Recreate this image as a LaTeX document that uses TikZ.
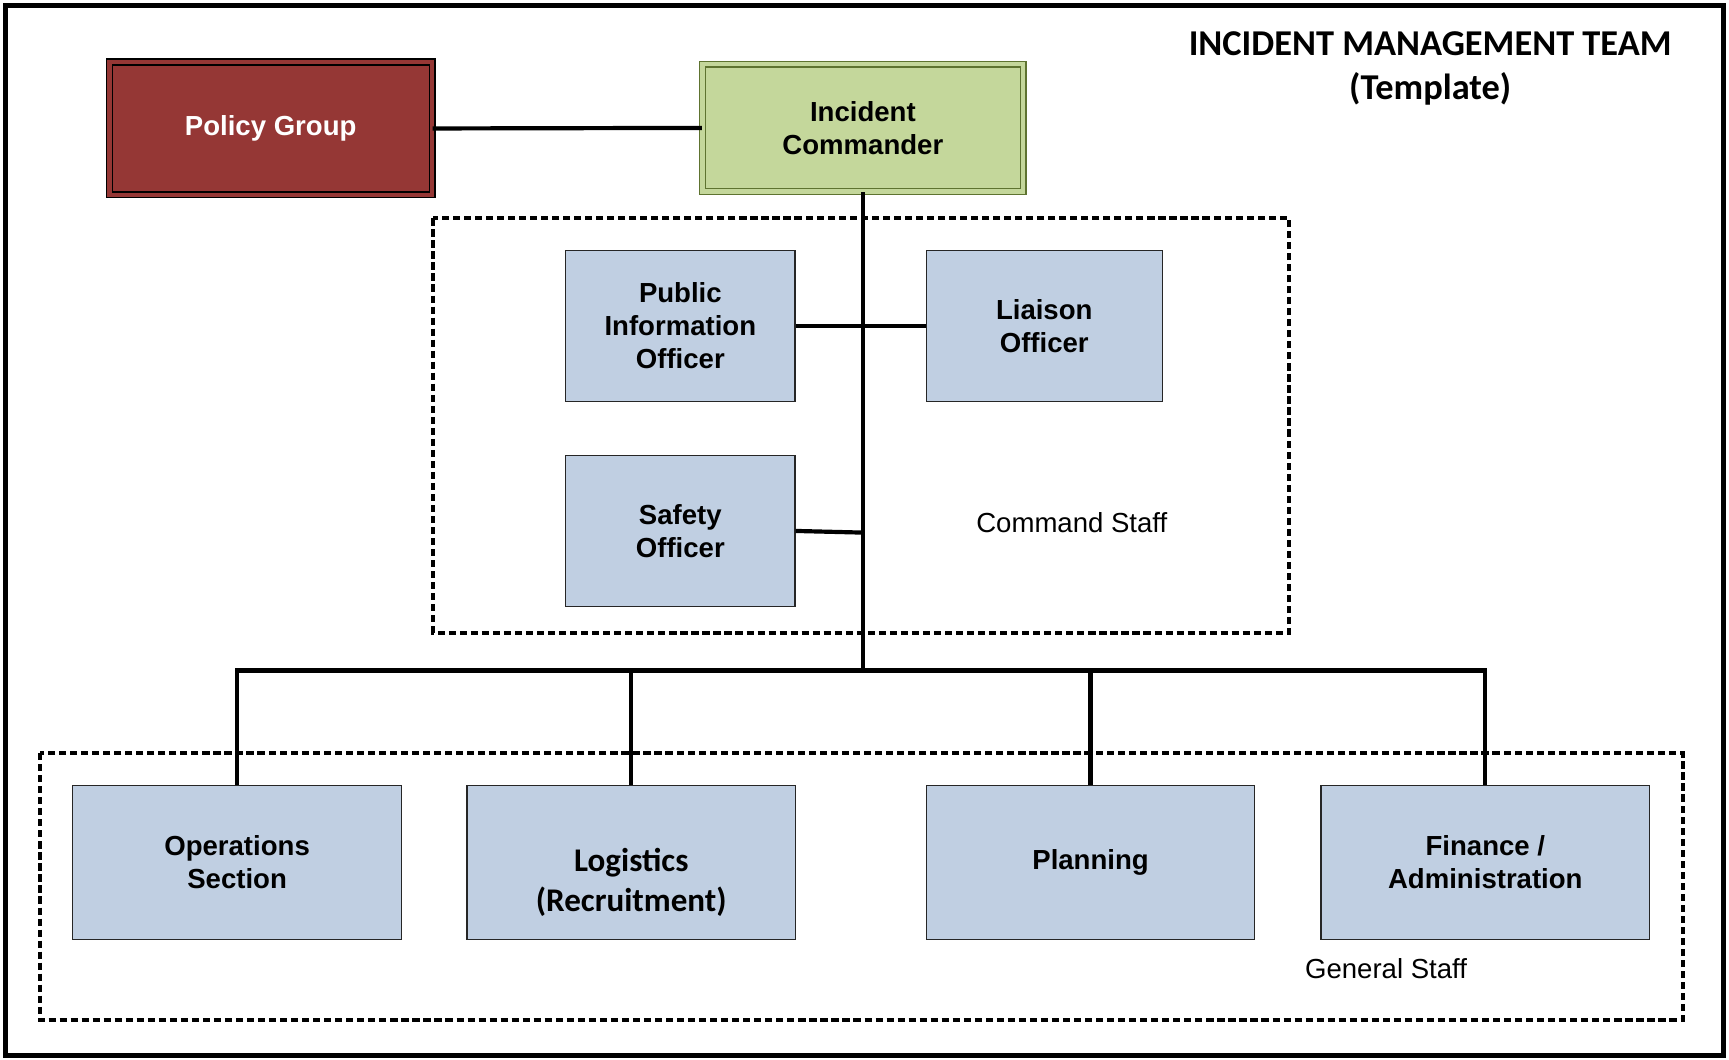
\documentclass[tikz,border=0pt]{standalone}
\usepackage{fontspec}
\setmainfont{Liberation Sans}
\newfontfamily\carlito{Carlito}
\definecolor{staffblue}{RGB}{192,207,226}
\definecolor{pgred}{RGB}{149,55,53}
\definecolor{icgreen}{RGB}{196,215,155}
\definecolor{icline}{RGB}{94,115,48}
\begin{document}
\begin{tikzpicture}[x=1pt,y=-1pt,
  box/.style={draw=black!85, line width=1pt, fill=staffblue, align=center, inner sep=0pt,
    font=\bfseries\fontsize{25}{30}\selectfont},
  cmdbox/.style={box, minimum width=208pt, minimum height=137pt},
  genbox/.style={box, minimum width=298pt, minimum height=140pt},
  conn/.style={line width=3.8pt},
  grp/.style={line width=3.4pt, dash pattern=on 6.5pt off 3.5pt},
  grplabel/.style={font=\fontsize{25}{30}\selectfont}]
\useasboundingbox (0,0) rectangle (1568,961);
% outer frame
\draw[line width=5pt] (5,5) rectangle (1563,957);
% title
\node[font=\carlito\bfseries\fontsize{33}{40}\selectfont, align=center] (title) at (1297,62)
  {INCIDENT MANAGEMENT TEAM\\(Template)};
% group boxes
\draw[grp] (393,198) rectangle (1169,574);
\draw[grp] (36,683) rectangle (1526,925);
\node[grplabel] (cmdlbl) at (972,474) {Command Staff};
\node[grplabel] (genlbl) at (1257,878) {General Staff};
% top boxes
\node[draw=black, line width=1.2pt, double=pgred, double distance=4pt, fill=pgred,
  minimum width=292.6pt, minimum height=120.6pt, text=white,
  font=\bfseries\fontsize{25}{30}\selectfont] (PG) at (245.5,116.5) {Policy Group};
\node[draw=icline, line width=1.2pt, double=icgreen, double distance=4pt, fill=icgreen,
  minimum width=290.6pt, minimum height=115.6pt, align=center,
  font=\bfseries\fontsize{25}{30}\selectfont] (IC) at (782.5,116) {Incident\\Commander};
% command staff
\node[cmdbox] (PIO) at (617,295.5) {Public\\Information\\Officer};
\node[cmdbox, minimum width=214pt] (LO) at (947,295.5) {Liaison\\Officer};
\node[cmdbox] (SO) at (617,481.5) {Safety\\Officer};
% general staff
\node[genbox] (OPS) at (215,782) {Operations\\Section};
\node[genbox, label={[align=center, yshift=-18pt, font=\carlito\bfseries\fontsize{30}{36}\selectfont]center:Logistics\\(Recruitment)}] (LOG) at (572.5,782) {};
\node[genbox] (PLAN) at (989,782) {Planning};
\node[genbox] (FIN) at (1347,782) {Finance /\\Administration};
% connectors
\coordinate (bar) at (782.5,608);
\coordinate (sojoin) at (782.5,483);
\draw[conn] (PG.east) -- (IC.west);
\draw[conn] (IC.south) -- (bar);
\draw[conn] (PIO.east) -- (LO.west);
\draw[conn] (SO.east) -- (sojoin);
\draw[conn] (OPS.north) |- (bar) -| (FIN.north);
\draw[conn] (LOG.north) -- (LOG.north |- bar);
\draw[conn] (PLAN.north) -- (PLAN.north |- bar);
\end{tikzpicture}
\end{document}
